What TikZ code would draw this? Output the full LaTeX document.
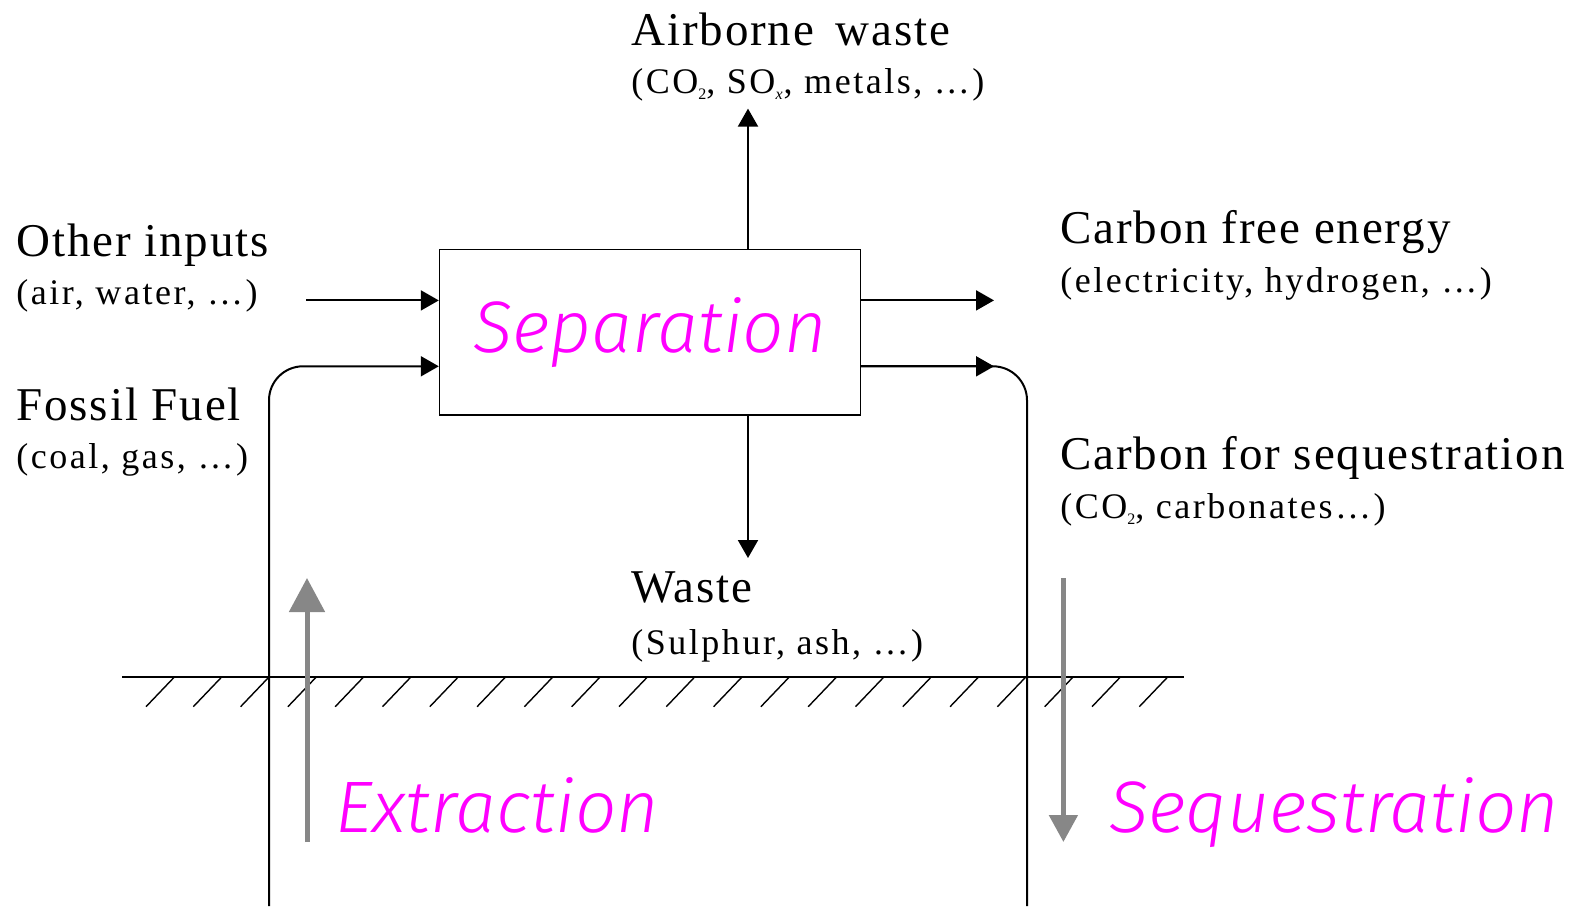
\documentclass[tikz,border=0pt]{standalone}
\usepackage{fontspec}
\setmainfont{Liberation Serif}
\newfontfamily\labelfont[LetterSpace=4]{Liberation Serif}
\newfontfamily\notefont[LetterSpace=7]{Liberation Serif}
\newfontfamily\procfont{Fira Sans Light Italic}
\usetikzlibrary{arrows.meta}
\definecolor{procpink}{RGB}{255,0,255}
\definecolor{flowgray}{RGB}{135,135,135}
\newcommand{\lowidx}[1]{\raisebox{-0.35ex}{\fontsize{8}{8}\selectfont #1}}

\begin{document}
\begin{tikzpicture}[x=0.5pt, y=-0.5pt,
  every node/.style={inner sep=0pt, anchor=base west},
  head/.style={font=\labelfont\fontsize{23.5}{26}\selectfont},
  note/.style={font=\notefont\fontsize{18}{21}\selectfont},
  proc/.style={font=\procfont\fontsize{36.5}{40}\selectfont, text=procpink},
  flow/.style={line width=1pt, -{Triangle[length=9pt, width=10pt]}},
  geo/.style={line width=2.5pt, flowgray}]
  \useasboundingbox (0,0) rectangle (1591,906);

  % separation unit
  \node[proc, draw=black, line width=0.7pt, anchor=center, minimum width=210.5pt, minimum height=82.7pt] (sep) at (650,332.3) {Separation};

  \coordinate (airtip) at (748,108.6);
  \coordinate (wastetip) at (748,558);
  \coordinate (othertail) at (306,300.4);
  \coordinate (fueltail) at (269,906);
  \coordinate (energytip) at (994,300.4);
  \coordinate (storetip) at (994,366.3);
  \coordinate (storeend) at (1027,906);

  \draw[flow] (sep.north -| airtip) -- (airtip);
  \draw[flow] (sep.south -| airtip) -- (wastetip);
  \draw[flow] (othertail) -- (othertail -| sep.west);
  \draw[flow, rounded corners=17pt] (fueltail) |- (sep.west |- storetip);
  \draw[flow] (sep.east |- energytip) -- (energytip);
  \draw[line width=1pt, rounded corners=17pt] (sep.east |- storetip) -| (storeend);
  \draw[flow] (sep.east |- storetip) -- (storetip);

  % ground
  \draw[line width=1pt] (122,677.3) -- (1184,677.3);
  \foreach \i in {0,...,21}
    \draw[line width=0.7pt] ({146+47.3*\i},706.7) -- ++(28,-29.3);

  \coordinate (digbot) at (307,842);
  \coordinate (digtop) at (307,578);
  \coordinate (sinktop) at (1063.4,578);
  \coordinate (sinkbot) at (1063.4,842);
  \draw[geo, -{Triangle[length=17pt, width=17.5pt]}] (digbot) -- (digtop);
  \draw[geo, -{Triangle[length=13.5pt, width=14pt]}] (sinktop) -- (sinkbot);

  % labels
  \node[head] (airborne) at (631,45.7) {Airborne\, waste};
  \node[note] (airbornesub) at (631,93.4) {(CO\lowidx{2}, SO\lowidx{\textit{x}}, metals, …)};
  \node[head] (other) at (16,256.7) {Other inputs};
  \node[note] (othersub) at (16,304.4) {(air, water, …)};
  \node[head] (fuel) at (16,420) {Fossil Fuel};
  \node[note] (fuelsub) at (16,468.8) {(coal, gas, …)};
  \node[head] (energy) at (1060,243.5) {Carbon free energy};
  \node[note] (energysub) at (1060,292.2) {(electricity, hydrogen, …)};
  \node[head] (store) at (1060,469.8) {Carbon for sequestration};
  \node[note] (storesub) at (1060,518.5) {(CO\lowidx{2}, carbonates…)};
  \node[head] (waste) at (631,602.7) {Waste};
  \node[note] (wastesub) at (631,654.5) {(Sulphur, ash, …)};
  \node[proc] (extract) at (335,832) {Extraction};
  \node[proc] (sequest) at (1109,832) {Sequestration};
\end{tikzpicture}
\end{document}
